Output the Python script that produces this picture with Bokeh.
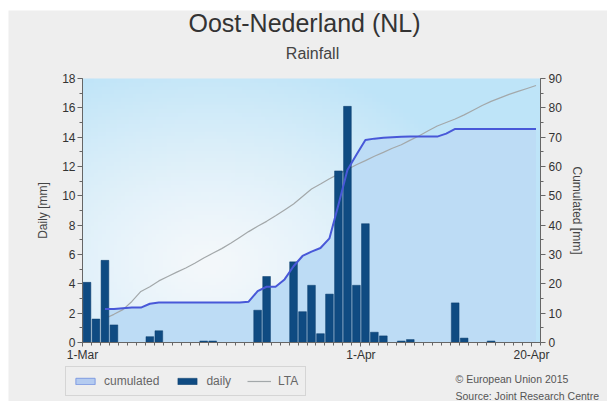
import numpy as np
from bokeh.plotting import figure
from bokeh.models import (Range1d, LinearAxis, FixedTicker, SingleIntervalTicker,
                          Label, Legend, LegendItem, ColumnDataSource)
from bokeh.embed import file_html
from bokeh.resources import INLINE

# ---- data: days counted from 1 March 2015 ----
tick_days = [0, 31, 50]
tick_labels = ["1-Mar", "1-Apr", "20-Apr"]

# daily rainfall [mm], one value per day from 1-Mar to 20-Apr
daily_mm = [4.1, 1.6, 5.6, 1.2, 0.0, 0.0, 0.0, 0.4, 0.8, 0.0,
            0.0, 0.0, 0.0, 0.1, 0.1, 0.0, 0.0, 0.0, 0.0, 2.2,
            4.5, 0.0, 0.0, 5.5, 2.1, 3.9, 0.6, 3.3, 11.7, 16.1,
            3.9, 8.1, 0.7, 0.45, 0.0, 0.1, 0.2, 0.0, 0.0, 0.0,
            0.0, 2.7, 0.3, 0.0, 0.0, 0.1, 0.0, 0.0, 0.0, 0.0, 0.0]

# cumulated rainfall [mm] and long-term average, from 3-Mar to 20-Apr
cum_first_day = 2
cumulated_mm = [11.4, 11.4, 11.7, 11.9, 11.9, 13.2, 13.6, 13.6, 13.6, 13.6,
                13.6, 13.6, 13.6, 13.6, 13.6, 13.6, 13.9, 17.5, 19.0, 19.0,
                21.5, 26.0, 29.5, 31.0, 32.2, 35.5, 47.0, 58.8, 64.0, 69.0,
                69.5, 69.8, 70.0, 70.1, 70.2, 70.2, 70.2, 70.2, 71.2, 72.8,
                72.8, 72.8, 72.8, 72.8, 72.8, 72.8, 72.8, 72.8, 72.8]
lta_mm = [8.2, 9.6, 11.2, 14.0, 17.4, 19.0, 21.0, 22.5, 24.0, 25.4,
          27.0, 28.8, 30.4, 32.0, 33.8, 35.8, 37.8, 39.6, 41.3, 43.2,
          45.2, 47.2, 49.8, 52.3, 54.0, 55.8, 57.4, 59.0, 60.6, 62.0,
          63.5, 64.8, 66.2, 67.4, 69.0, 70.5, 72.2, 73.8, 75.0, 76.2,
          77.6, 79.2, 80.8, 82.2, 83.4, 84.6, 85.6, 86.6, 87.6]

title_text = "Oost-Nederland (NL)"
subtitle_text = "Rainfall"
credit_lines = ["\u00a9 European Union 2015", "Source: Joint Research Centre"]
legend_labels = ["cumulated", "daily", "LTA"]

DAILY_MAX, CUM_MAX = 18, 90

n_days = len(daily_mm)
day_mid = [d + 0.5 for d in range(n_days)]
cum_mid = [cum_first_day + i + 0.5 for i in range(len(cumulated_mm))]

bars = ColumnDataSource(dict(x=day_mid, top=daily_mm))
cum = ColumnDataSource(dict(x=cum_mid, cum=cumulated_mm, lta=lta_mm))

FONT = "Liberation Sans"
TXT = "#333333"
PAGE = "#eeeeee"

BAR_FILL, BAR_EDGE = "#0f4b82", "#0b3d6c"
CUM_LINE = "#4858d8"
CUM_FILL = "#bddcf5"
LTA_LINE = "#a3a8aa"

# canvas geometry (pixels): the data frame fills the canvas, the
# plot area proper sits inside it and the axes are pinned to its edges
W, H = 599, 391
AREA_L, AREA_R, AREA_T, AREA_B = 74, 532, 68, 332
px_day = (AREA_R - AREA_L) / n_days
px_mm = (AREA_B - AREA_T) / DAILY_MAX
x0 = -AREA_L / px_day
x1 = n_days + (W - AREA_R) / px_day
y0 = -(H - AREA_B) / px_mm
y1 = DAILY_MAX + AREA_T / px_mm
cum_factor = CUM_MAX / DAILY_MAX


def at_x(px):
    return x0 + px / px_day


def at_y(py):
    return y1 - py / px_mm


p = figure(width=W, height=H,
           x_range=Range1d(x0, x1), y_range=Range1d(y0, y1),
           output_backend="svg", toolbar_location=None,
           x_axis_type=None, y_axis_type=None,
           min_border=0, min_border_left=0, min_border_right=0,
           min_border_top=0, min_border_bottom=0,
           background_fill_color=PAGE, border_fill_color=PAGE,
           outline_line_color=None)
p.margin = (10, 0, 0, 8)
p.extra_y_ranges = {"cum": Range1d(y0 * cum_factor, y1 * cum_factor)}

# soft plot-area shading: pale towards the lower left, light blue elsewhere
nx, ny = 120, 70
u = (np.arange(nx) + 0.5) / nx
v = (np.arange(ny) + 0.5) / ny
U, V = np.meshgrid(u, v)
d = np.sqrt(((U - 0.28) * 458 / 290) ** 2 + ((V - 0.30) * 264 / 210) ** 2)
t = np.clip(d, 0, 1) ** 1.3
pale = np.array([244, 248, 251])
blue = np.array([190, 228, 248])
rgb = pale[None, None, :] * (1 - t[..., None]) + blue[None, None, :] * t[..., None]
img = np.empty((ny, nx), dtype=np.uint32)
view = img.view(dtype=np.uint8).reshape((ny, nx, 4))
view[..., 0] = rgb[..., 0]
view[..., 1] = rgb[..., 1]
view[..., 2] = rgb[..., 2]
view[..., 3] = 255
p.image_rgba(image=[img], x=0, y=0, dw=n_days, dh=DAILY_MAX)

# cumulated area, LTA, daily bars, cumulated line
r_area = p.varea(x="x", y1=0, y2="cum", source=cum, y_range_name="cum",
                 fill_color=CUM_FILL)
r_lta = p.line("x", "lta", source=cum, y_range_name="cum",
               line_color=LTA_LINE, line_width=1.2)
r_bar = p.vbar(x="x", top="top", width=0.86, source=bars,
               fill_color=BAR_FILL, line_color=BAR_EDGE, line_width=0.5)
p.line("x", "cum", source=cum, y_range_name="cum", line_color=CUM_LINE, line_width=2)

# legend key for the cumulated area: a framed swatch, not drawn in the plot
r_area_key = p.rect(x="x", y="cum", width=0, height=0, source=cum,
                    y_range_name="cum", fill_color="#b4cbf0",
                    line_color="#7f9be2", line_width=1, visible=False)

# axes pinned to the plot area
xa = LinearAxis(fixed_location=0, bounds=(0, n_days),
                ticker=FixedTicker(ticks=tick_days,
                                   minor_ticks=list(range(n_days + 1))))
xa.major_label_overrides = {d: lab for d, lab in zip(tick_days, tick_labels)}
ya = LinearAxis(fixed_location=0, bounds=(0, DAILY_MAX),
                ticker=SingleIntervalTicker(interval=2, num_minor_ticks=2),
                axis_label="Daily [mm]")
ra = LinearAxis(fixed_location=n_days, bounds=(0, CUM_MAX), y_range_name="cum",
                ticker=SingleIntervalTicker(interval=10, num_minor_ticks=2),
                axis_label="Cumulated [mm]")
p.add_layout(xa, "below")
p.add_layout(ya, "left")
p.add_layout(ra, "right")

for ax in (xa, ya, ra):
    ax.axis_line_color = "#666666"
    ax.major_tick_line_color = "#666666"
    ax.minor_tick_line_color = "#666666"
    ax.major_tick_in = 0
    ax.major_tick_out = 5
    ax.minor_tick_in = 0
    ax.minor_tick_out = 3
    ax.major_label_text_font = FONT
    ax.major_label_text_font_size = "12px"
    ax.major_label_text_color = TXT
    ax.axis_label_text_font = FONT
    ax.axis_label_text_font_size = "12px"
    ax.axis_label_text_font_style = "normal"
    ax.axis_label_text_color = "#444444"
xa.major_tick_out = 4
xa.major_label_standoff = 1
ya.major_label_standoff = 2
ya.axis_label_standoff = 9
ra.major_label_standoff = 3
ra.axis_label_standoff = 5

# titles
p.add_layout(Label(x=at_x(296), y=at_y(12), text=title_text,
                   text_align="center", text_baseline="middle",
                   text_font=FONT, text_font_size="25px", text_color=TXT))
p.add_layout(Label(x=at_x(304), y=at_y(43), text=subtitle_text,
                   text_align="center", text_baseline="middle",
                   text_font=FONT, text_font_size="16px", text_color="#444444"))

# legend under the plot area
legend = Legend(items=[LegendItem(label=legend_labels[0], renderers=[r_area_key]),
                       LegendItem(label=legend_labels[1], renderers=[r_bar]),
                       LegendItem(label=legend_labels[2], renderers=[r_lta])],
                orientation="horizontal", location=(57, 5),
                glyph_width=24, glyph_height=8, label_height=12,
                label_standoff=7, spacing=16, padding=7, margin=0,
                label_text_font=FONT, label_text_font_size="12px",
                label_text_color="#666666",
                inactive_fill_alpha=0,
                background_fill_color=PAGE, background_fill_alpha=1,
                border_line_color="#bcbcbc", border_line_width=1)
p.add_layout(legend)

# credits
for text, py in zip(credit_lines, [368, 385]):
    p.add_layout(Label(x=at_x(447), y=at_y(py), text=text, text_baseline="middle",
                       text_font=FONT, text_font_size="10.5px", text_color="#555555"))

open("out.html", "w").write(file_html(p, INLINE))
